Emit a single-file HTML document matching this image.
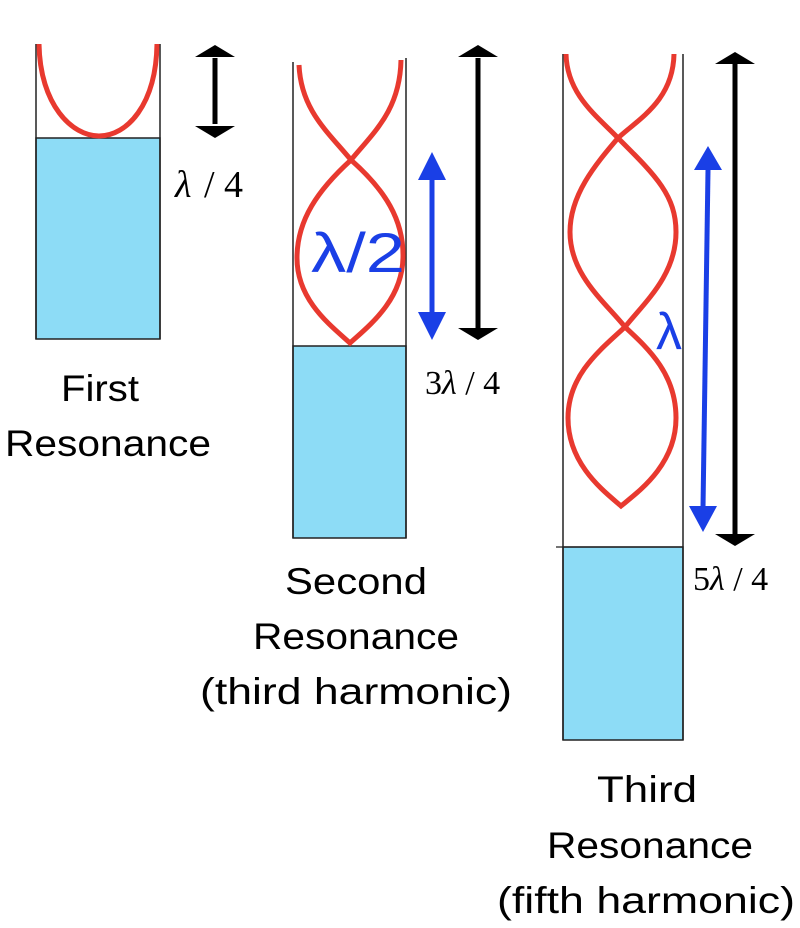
<!DOCTYPE html>
<html><head><meta charset="utf-8"><style>html,body{margin:0;padding:0;background:#fff}svg{display:block}</style></head>
<body>
<svg width="800" height="928" viewBox="0 0 800 928" xmlns="http://www.w3.org/2000/svg">
<!-- Tube 1 -->
<rect x="36" y="138" width="124" height="201" fill="#8ddcf6" stroke="#222" stroke-width="1.5"/>
<line x1="36" y1="44" x2="36" y2="339" stroke="#222" stroke-width="1.5"/>
<line x1="160" y1="44" x2="160" y2="339" stroke="#222" stroke-width="1.5"/>
<path d="M39,44 C40,105 72,136 99,136 C127,136 156,105 157,44" fill="none" stroke="#e8392f" stroke-width="5"/>
<line x1="215" y1="58" x2="215" y2="124" stroke="#000" stroke-width="5"/>
<polygon points="215,45 235,57 195,57" fill="#000"/>
<polygon points="215,138 235,126 195,126" fill="#000"/>
<text x="175" y="197" font-family="Liberation Serif, serif" font-size="38" font-style="italic">λ</text>
<text x="204" y="197" font-family="Liberation Serif, serif" font-size="38">/ 4</text>
<text x="100" y="401" text-anchor="middle" font-family="Liberation Sans, sans-serif" font-size="37" textLength="78" lengthAdjust="spacingAndGlyphs">First</text>
<text x="108" y="456" text-anchor="middle" font-family="Liberation Sans, sans-serif" font-size="37" textLength="206" lengthAdjust="spacingAndGlyphs">Resonance</text>

<!-- Tube 2 -->
<rect x="293" y="346" width="113" height="192" fill="#8ddcf6" stroke="#222" stroke-width="1.5"/>
<line x1="293" y1="62" x2="293" y2="538" stroke="#222" stroke-width="1.5"/>
<line x1="406" y1="58" x2="406" y2="538" stroke="#222" stroke-width="1.5"/>
<path d="M299,65 C301,110 328,132 351,160 C385,190 404,220 403,258 C402,300 370,325 350,343 C330,325 297,300 297,258 C297,220 318,190 351,160 C374,132 400,110 401,60" fill="none" stroke="#e8392f" stroke-width="5"/>
<text x="311" y="272" font-family="Liberation Sans, sans-serif" font-size="56" fill="#1a3fe6" textLength="94" lengthAdjust="spacingAndGlyphs">λ/2</text>
<line x1="432" y1="175" x2="432" y2="318" stroke="#1a3fe6" stroke-width="5"/>
<polygon points="432,152 446,180 418,180" fill="#1a3fe6"/>
<polygon points="432,340 446,312 418,312" fill="#1a3fe6"/>
<line x1="478" y1="58" x2="478" y2="328" stroke="#000" stroke-width="5"/>
<polygon points="478,45 498,57 458,57" fill="#000"/>
<polygon points="478,340 498,328 458,328" fill="#000"/>
<text x="425" y="394" font-family="Liberation Serif, serif" font-size="34">3<tspan font-style="italic">λ</tspan> / 4</text>
<text x="356" y="594" text-anchor="middle" font-family="Liberation Sans, sans-serif" font-size="37" textLength="142" lengthAdjust="spacingAndGlyphs">Second</text>
<text x="356" y="649" text-anchor="middle" font-family="Liberation Sans, sans-serif" font-size="37" textLength="206" lengthAdjust="spacingAndGlyphs">Resonance</text>
<text x="356" y="704" text-anchor="middle" font-family="Liberation Sans, sans-serif" font-size="37" textLength="312" lengthAdjust="spacingAndGlyphs">(third harmonic)</text>

<!-- Tube 3 -->
<rect x="563" y="547" width="120" height="193" fill="#8ddcf6" stroke="#222" stroke-width="1.5"/>
<line x1="556" y1="547" x2="683" y2="547" stroke="#222" stroke-width="1.2"/>
<line x1="563" y1="54" x2="563" y2="740" stroke="#222" stroke-width="1.5"/>
<line x1="683" y1="54" x2="683" y2="740" stroke="#222" stroke-width="1.5"/>
<path d="M566,54 C567,95 598,117 618,138 C655,175 676,195 676,232 C676,275 645,302 625,327 C600,350 568,375 568,418 C568,465 605,492 621,506 C638,492 676,465 676,418 C676,375 650,350 625,327 C605,302 570,275 570,232 C570,195 595,165 618,138 C640,118 673,100 674,54" fill="none" stroke="#e8392f" stroke-width="5"/>
<text x="656" y="349" font-family="Liberation Sans, sans-serif" font-size="52" fill="#1a3fe6">λ</text>
<line x1="708" y1="170" x2="703" y2="508" stroke="#1a3fe6" stroke-width="5"/>
<polygon points="708,146 722,170 694,170" fill="#1a3fe6"/>
<polygon points="703,532 717,506 689,506" fill="#1a3fe6"/>
<line x1="735" y1="60" x2="735" y2="534" stroke="#000" stroke-width="5"/>
<polygon points="735,52 755,64 715,64" fill="#000"/>
<polygon points="735,546 755,534 715,534" fill="#000"/>
<text x="693" y="590" font-family="Liberation Serif, serif" font-size="34">5<tspan font-style="italic">λ</tspan> / 4</text>
<text x="647" y="802" text-anchor="middle" font-family="Liberation Sans, sans-serif" font-size="37" textLength="100" lengthAdjust="spacingAndGlyphs">Third</text>
<text x="650" y="858" text-anchor="middle" font-family="Liberation Sans, sans-serif" font-size="37" textLength="206" lengthAdjust="spacingAndGlyphs">Resonance</text>
<text x="646" y="913" text-anchor="middle" font-family="Liberation Sans, sans-serif" font-size="37" textLength="298" lengthAdjust="spacingAndGlyphs">(fifth harmonic)</text>
</svg>
</body></html>
